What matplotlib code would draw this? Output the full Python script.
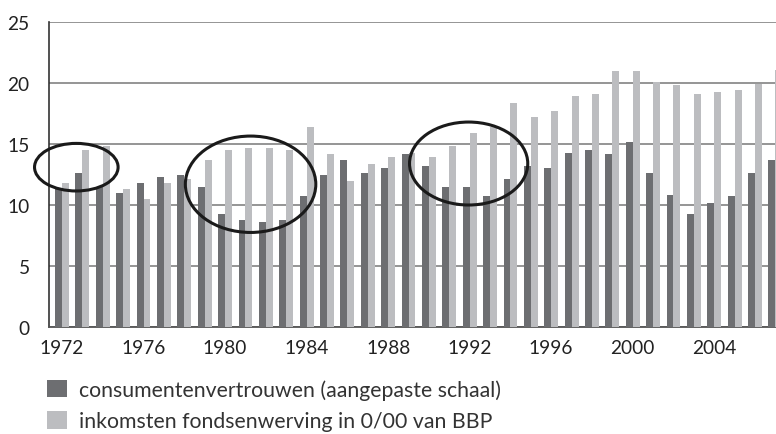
import numpy as np
import matplotlib
matplotlib.use("Agg")
import matplotlib.pyplot as plt
from matplotlib.patches import Ellipse, Patch

plt.rcParams['font.family'] = ['Lato', 'DejaVu Sans']

years = list(range(1972, 2008))
consumentenvertrouwen = [
    11.3, 12.6, 11.5, 11.0, 11.8, 12.3, 12.5, 11.5, 9.3, 8.8, 8.6, 8.8,
    10.7, 12.5, 13.7, 12.6, 13.0, 14.2, 13.2, 11.5, 11.5, 10.7, 12.1, 13.2,
    13.0, 14.3, 14.5, 14.2, 15.2, 12.6, 10.8, 9.3, 10.2, 10.7, 12.6, 13.7,
]
inkomsten = [
    11.8, 14.5, 14.8, 11.3, 10.5, 11.8, 12.1, 13.7, 14.5, 14.7, 14.7, 14.5,
    16.4, 14.2, 12.0, 13.4, 13.9, 14.3, 13.9, 14.8, 15.9, 16.4, 18.4, 17.2,
    17.7, 18.9, 19.1, 21.0, 21.0, 20.1, 19.8, 19.1, 19.3, 19.4, 19.9, 21.1,
]
tick_years = list(range(1972, 2008, 4))
y_ticks = [0, 5, 10, 15, 20, 25]
labels = ["consumentenvertrouwen (aangepaste schaal)",
          "inkomsten fondsenwerving in 0/00 van BBP"]

# highlighted periods: (centre year, centre value, width in years, height)
highlights = [
    (1972.7, 13.1, 4.1, 3.9),
    (1981.25, 11.7, 6.4, 7.9),
    (1991.95, 13.4, 5.8, 6.8),
]

dark = "#6d6e71"
light = "#bcbdc0"

fig = plt.figure(figsize=(7.76, 4.35), dpi=100)
ax = fig.add_axes([49 / 776, 107 / 435, 727 / 776, 305 / 435])

x = np.array(years, dtype=float)
w = 0.34
ax.bar(x - w / 2, consumentenvertrouwen, width=w, color=dark, zorder=3, linewidth=0)
ax.bar(x + w / 2, inkomsten, width=w, color=light, zorder=3, linewidth=0)

for cx, cy, ew, eh in highlights:
    ax.add_patch(Ellipse((cx, cy), ew, eh, fill=False, edgecolor="#1a1a1a",
                         linewidth=2.2, zorder=5, clip_on=False))

ax.set_xlim(1971.36, 2007.03)
ax.set_ylim(0, 25)
ax.set_yticks(y_ticks)
ax.set_xticks(tick_years)
ax.tick_params(axis="both", length=0, labelsize=13.8, colors="#222222")
ax.tick_params(axis="y", pad=14)
ax.tick_params(axis="x", pad=9)
ax.yaxis.grid(True, color="#8c8c8c", linewidth=1.3, zorder=0)
ax.set_axisbelow(True)

for s in ["top", "right"]:
    ax.spines[s].set_visible(False)
ax.spines["left"].set_color("#333333")
ax.spines["left"].set_linewidth(1.2)
ax.spines["bottom"].set_color("#555555")
ax.spines["bottom"].set_linewidth(1.3)

handles = [Patch(facecolor=dark, edgecolor="none"),
           Patch(facecolor=light, edgecolor="none")]
fig.legend(handles, labels, loc="upper left", bbox_to_anchor=(41 / 776, 1 - 374 / 435),
           frameon=False, fontsize=15.3, handlelength=0.9, handleheight=0.88,
           handletextpad=0.57, labelspacing=0.53, labelcolor="#333333",
           borderaxespad=0, borderpad=0.3)

fig.savefig("out.png", dpi=100)
